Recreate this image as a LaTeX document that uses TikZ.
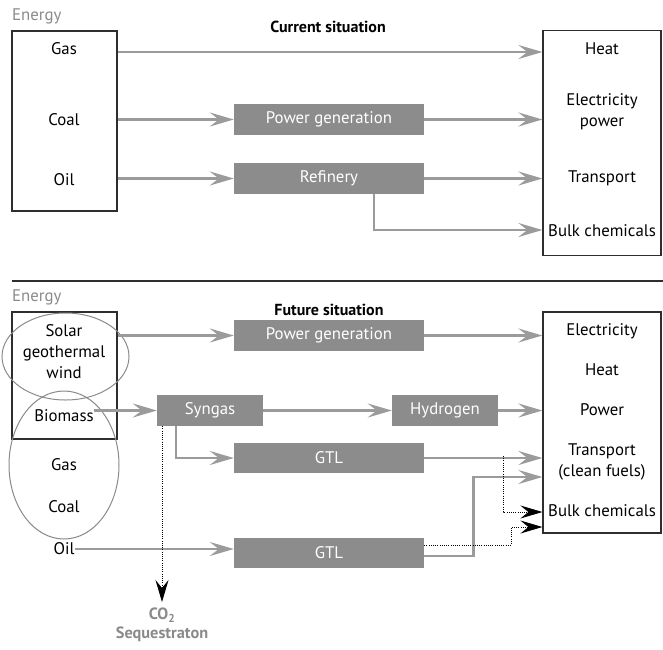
\documentclass[tikz,border=0pt]{standalone}
\usepackage{fontspec}
\setmainfont{PT Sans}
\usetikzlibrary{arrows.meta,calc}
\definecolor{boxgray}{HTML}{8C8C8C}
\definecolor{flowgray}{HTML}{9B9B9B}
\definecolor{labelgray}{HTML}{8A8A8A}
\definecolor{framecol}{HTML}{2E2E2E}
\tikzset{
  basefont/.style={font=\fontsize{16.8}{21}\selectfont},
  proc/.style={basefont, fill=boxgray, text=white, minimum height=31pt, inner sep=0pt},
  frame/.style={draw=framecol, line width=1.2pt, inner sep=0pt},
  txt/.style={basefont, align=center, inner sep=0pt},
  flow/.style={draw=flowgray, line width=2.8pt, -{Stealth[length=24pt,width=14pt,inset=9pt]}},
  dots/.style={draw=black, line width=0.9pt, dash pattern=on 1pt off 1.2pt, -{Stealth[length=22pt,width=13pt,inset=8pt,fill=black]}},
  ring/.style={draw=labelgray, line width=1pt},
  heading/.style={font=\fontsize{16}{20}\selectfont\bfseries, inner sep=0pt},
  tag/.style={basefont, text=labelgray, anchor=west, inner sep=0pt},
  sink/.style={font=\fontsize{16.3}{20}\selectfont\bfseries, text=labelgray, inner sep=0pt},
}
\begin{document}
\begin{tikzpicture}[x=1pt,y=-1pt]
\useasboundingbox (0,0) rectangle (663,649);

% ---------------- current situation ----------------
\node[tag] (energyA) at (12,16) {Energy};
\node[heading] (titleA) at (328,27) {Current situation};

\node[frame, minimum width=105pt, minimum height=180pt] (srcA) at (64.5,121) {};
\node[txt] (gasA)  at (64,49)  {Gas};
\node[txt] (coalA) at (64,120) {Coal};
\node[txt] (oilA)  at (64,180) {Oil};

\node[frame, minimum width=118pt, minimum height=225pt] (dstA) at (602,143) {};
\node[txt] (heatA)  at (602,49)  {Heat};
\node[txt] (elecA)  at (602,112) {Electricity\\power};
\node[txt] (tranA)  at (602,178) {Transport};
\node[txt] (bulkA)  at (602,231) {Bulk chemicals};

\node[proc, minimum width=190pt] (pgA)  at (329,119.5) {Power generation};
\node[proc, minimum width=190pt] (refA) at (329,178.5) {Refinery};

\coordinate (gasrow)  at (0,52);
\coordinate (bulkrow) at (0,230);
\draw[flow] (srcA.east |- gasrow) -- (dstA.west |- gasrow);
\draw[flow] (srcA.east |- pgA.west) -- (pgA.west);
\draw[flow] (pgA.east) -- (dstA.west |- pgA.east);
\draw[flow] (srcA.east |- refA.west) -- (refA.west);
\draw[flow] (refA.east) -- (dstA.west |- refA.east);
\draw[flow] ([xshift=45pt]refA.south) |- (dstA.west |- bulkrow);

% separator
\draw[framecol, line width=2.2pt] (12,281) -- (663,281);

% ---------------- future situation ----------------
\node[tag] (energyB) at (12,297) {Energy};
\node[heading] (titleB) at (329,310) {Future situation};

\node[frame, minimum width=105pt, minimum height=127pt] (srcB) at (64.5,375.5) {};
\node[txt] (renB) at (64,352) {Solar\\geothermal\\wind};
\node[txt] (bioB)  at (64,416) {Biomass};
\node[txt] (gasB)  at (64,465) {Gas};
\node[txt] (coalB) at (64,507) {Coal};
\node[txt] (oilB)  at (64,549) {Oil};

\draw[ring] (65.5,356.5) ellipse [x radius=63.5, y radius=43.5];
\draw[ring] (64,465) ellipse [x radius=55, y radius=74];

\node[frame, minimum width=118pt, minimum height=221pt] (dstB) at (602,422.5) {};
\node[txt] (elecB) at (602,331) {Electricity};
\node[txt] (heatB) at (602,370) {Heat};
\node[txt] (powB)  at (602,410) {Power};
\node[txt] (tranB) at (602,461.5) {Transport\\(clean fuels)};
\node[txt] (bulkB) at (602,511) {Bulk chemicals};

\node[proc, minimum width=190pt] (pgB)  at (329,335.5) {Power generation};
\node[proc, minimum width=106pt] (syn)  at (210,410.5) {Syngas};
\node[proc, minimum width=106pt] (hyd)  at (445,410.5) {Hydrogen};
\node[proc, minimum width=190pt, minimum height=30pt] (gtlA) at (329,458) {GTL};
\node[proc, minimum width=190pt, minimum height=30pt] (gtlB) at (329,553) {GTL};

\node[sink] (co2) at (162,615) {CO\textsubscript{2}};
\node[sink] (seq) at (162,634) {Sequestraton};

\coordinate (tranrow)  at (0,477);
\coordinate (bulkrowA) at (0,512);
\coordinate (bulkrowB) at (0,527);
\coordinate (co2tip)   at (162,602);

\draw[flow] (srcB.east |- pgB.west) -- (pgB.west);
\draw[flow] (pgB.east) -- (dstB.west |- pgB.east);
\draw[flow] (bioB.east |- syn.west) -- (syn.west);
\draw[flow] (syn.east) -- (hyd.west);
\draw[flow] (hyd.east) -- (dstB.west |- hyd.east);
\draw[flow] ([xshift=-34pt]syn.south) |- (gtlA.west);
\draw[flow] (gtlA.east) -- (dstB.west |- gtlA.east);
\draw[flow] (oilB.east) -- (gtlB.west |- oilB.east);
\draw[flow] ([yshift=-3pt]gtlB.east) -- ++(49,0) |- (dstB.west |- tranrow);

\draw[dots] ([xshift=79pt,yshift=2pt]gtlA.east) |- (dstB.west |- bulkrowA);
\draw[dots] ([yshift=8pt]gtlB.east) -- ++(87,0) |- (dstB.west |- bulkrowB);
\draw[dots] ([xshift=-48pt]syn.south) -- (co2tip);
\end{tikzpicture}
\end{document}
